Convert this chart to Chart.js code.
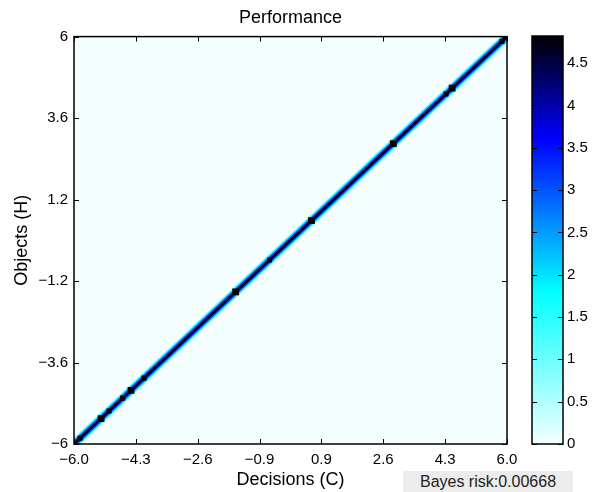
<!DOCTYPE html>
<html>
<head>
<meta charset="utf-8">
<script src="https://cdn.jsdelivr.net/npm/chart.js@4/dist/chart.umd.min.js"></script>
<style>
  body { margin: 0; background: #fff; }
  #wrap { position: relative; width: 594px; height: 492px; }
  #perfChart { position: absolute; left: 0; top: 0; }
  #cbarChart { position: absolute; left: 520px; top: 0; }
  #risk {
    position: absolute; left: 403px; top: 471px; width: 170px; height: 21px;
    background: #ececec; color: #222; font: 16px "Liberation Sans", Arial, sans-serif;
    text-align: center; line-height: 22px;
  }
</style>
</head>
<body>
<div id="wrap">
  <canvas id="perfChart" width="594" height="492"></canvas>
  <canvas id="cbarChart" width="74" height="492"></canvas>
  <div id="risk">Bayes risk:0.00668</div>
</div>
<script>
// axes
const xTicks = [-6, -30 / 7, -18 / 7, -6 / 7, 6 / 7, 18 / 7, 30 / 7, 6];
const xTickLabels = ["\u22126.0", "\u22124.3", "\u22122.6", "\u22120.9", "0.9", "2.6", "4.3", "6.0"];
const yTicks = [-6, -3.6, -1.2, 1.2, 3.6, 6];
const yTickLabels = ["\u22126", "\u22123.6", "\u22121.2", "1.2", "3.6", "6"];

// diagonal ridge (decision == object)
const diagX = [-6, 6];
const diagY = [-6, 6];

// dark blobs along the ridge
const peakPos = [-5.83, -5.25, -5.03, -4.65, -4.42, -4.06, -1.52, -0.58, 0.58, 2.85, 4.31, 4.48, 5.86];
const peakVal = [4.5, 4.8, 4.4, 4.6, 4.8, 4.4, 4.8, 4.3, 4.8, 4.8, 4.4, 4.8, 4.5];

// colour bar
const cbarMax = 4.82;
const cbarTicks = [0, 0.5, 1, 1.5, 2, 2.5, 3, 3.5, 4, 4.5];
const cmapVals = [0, 1.8, 3.6, 4.82];
const cmapColors = ["#f4ffff", "#00ffff", "#0000ff", "#000000"];

const FONT = "'Liberation Sans', Arial, sans-serif";

// inward MATLAB style ticks + box
const boxTicks = {
  id: "boxTicks",
  beforeDraw(chart, args, opts) {
    const a = chart.chartArea;
    const ctx = chart.ctx;
    if (opts.bg) {
      ctx.save();
      ctx.fillStyle = opts.bg;
      ctx.fillRect(a.left, a.top, a.right - a.left, a.bottom - a.top);
      ctx.restore();
    }
  },
  afterDraw(chart, args, opts) {
    const a = chart.chartArea;
    const ctx = chart.ctx;
    ctx.save();
    ctx.strokeStyle = "#000";
    ctx.lineWidth = 1;
    const len = 5;
    if (opts.x) {
      chart.scales.x.ticks.forEach(t => {
        const px = Math.round(chart.scales.x.getPixelForValue(t.value)) + 0.5;
        ctx.beginPath();
        ctx.moveTo(px, a.bottom); ctx.lineTo(px, a.bottom - len);
        ctx.moveTo(px, a.top); ctx.lineTo(px, a.top + len);
        ctx.stroke();
      });
    }
    chart.scales.y.ticks.forEach(t => {
      const py = Math.round(chart.scales.y.getPixelForValue(t.value)) + 0.5;
      ctx.beginPath();
      ctx.moveTo(a.left, py); ctx.lineTo(a.left + len, py);
      ctx.moveTo(a.right, py); ctx.lineTo(a.right - len, py);
      ctx.stroke();
    });
    ctx.lineWidth = 1.5;
    ctx.strokeRect(a.left, a.top, a.right - a.left, a.bottom - a.top);
    ctx.restore();
  }
};

function ridge(color, width) {
  return {
    type: "line",
    data: diagX.map((x, i) => ({ x: x, y: diagY[i] })),
    borderColor: color,
    borderWidth: width,
    pointRadius: 0,
    fill: false
  };
}

// first dataset is painted last (on top)
new Chart(document.getElementById("perfChart"), {
  type: "scatter",
  data: {
    datasets: [
      {
        type: "scatter",
        data: peakPos.map(v => ({ x: v, y: v })),
        pointStyle: "rect",
        pointRadius: peakVal.map(v => v >= 4.7 ? 4.8 : 3.6),
        backgroundColor: "#000",
        borderWidth: 0
      },
      ridge("#00001e", 2.5),
      ridge("#0a3cff", 5),
      ridge("#00e8ff", 7.5),
      ridge("#b8f6ff", 10)
    ]
  },
  plugins: [boxTicks],
  options: {
    responsive: false,
    animation: false,
    layout: { padding: { left: 0, right: 13, top: 0, bottom: 0 } },
    plugins: {
      legend: { display: false },
      tooltip: { enabled: false },
      title: {
        display: true,
        text: "Performance",
        color: "#000",
        font: { family: FONT, size: 18, weight: "normal" },
        padding: { top: 7, bottom: 8 }
      },
      boxTicks: { bg: "#f4feff", x: true }
    },
    scales: {
      x: {
        type: "linear",
        min: -6, max: 6,
        afterBuildTicks: axis => { axis.ticks = xTicks.map(v => ({ value: v })); },
        afterFit: axis => { axis.height = 48; },
        grid: { display: false, drawTicks: false },
        border: { display: false },
        ticks: {
          autoSkip: false, maxRotation: 0, padding: 7, color: "#000",
          font: { family: FONT, size: 15 },
          callback: (v, i) => xTickLabels[i]
        },
        title: {
          display: true, text: "Decisions (C)", color: "#000",
          font: { family: FONT, size: 18 }, padding: { top: 0, bottom: 1 }
        }
      },
      y: {
        type: "linear",
        min: -6, max: 6,
        afterBuildTicks: axis => { axis.ticks = yTicks.map(v => ({ value: v })); },
        afterFit: axis => { axis.width = 74; },
        grid: { display: false, drawTicks: false },
        border: { display: false },
        ticks: {
          autoSkip: false, padding: 6, color: "#000",
          font: { family: FONT, size: 15 },
          callback: (v, i) => yTickLabels[i]
        },
        title: {
          display: true, text: "Objects (H)", color: "#000",
          font: { family: FONT, size: 18 }, padding: { top: 11, bottom: 4 }
        }
      },
      // empty right axis reserving room for the colour bar
      yRight: {
        type: "linear",
        position: "right",
        min: -6, max: 6,
        afterFit: axis => { axis.width = 74; },
        grid: { display: false, drawTicks: false },
        border: { display: false },
        ticks: { display: false }
      }
    }
  }
});

new Chart(document.getElementById("cbarChart"), {
  type: "bar",
  data: {
    labels: ["scale"],
    datasets: [{
      data: [cbarMax],
      barPercentage: 1,
      categoryPercentage: 1,
      borderWidth: 0,
      backgroundColor: ctx => {
        const chart = ctx.chart;
        if (!chart.chartArea) return "#00ffff";
        const y = chart.scales.y;
        const y0 = y.getPixelForValue(0), y1 = y.getPixelForValue(cbarMax);
        const g = chart.ctx.createLinearGradient(0, y0, 0, y1);
        cmapVals.forEach((v, i) => g.addColorStop(v / cbarMax, cmapColors[i]));
        return g;
      }
    }]
  },
  plugins: [boxTicks],
  options: {
    responsive: false,
    animation: false,
    layout: { padding: { left: 12, right: 0, top: 36, bottom: 48 } },
    plugins: {
      legend: { display: false },
      tooltip: { enabled: false },
      boxTicks: { x: false }
    },
    scales: {
      x: { display: false },
      y: {
        position: "right",
        min: 0, max: cbarMax,
        afterBuildTicks: axis => { axis.ticks = cbarTicks.map(v => ({ value: v })); },
        afterFit: axis => { axis.width = 31; },
        grid: { display: false, drawTicks: false },
        border: { display: false },
        ticks: {
          autoSkip: false, padding: 4, color: "#000",
          font: { family: FONT, size: 15 },
          callback: v => String(v)
        }
      }
    }
  }
});
</script>
</body>
</html>
